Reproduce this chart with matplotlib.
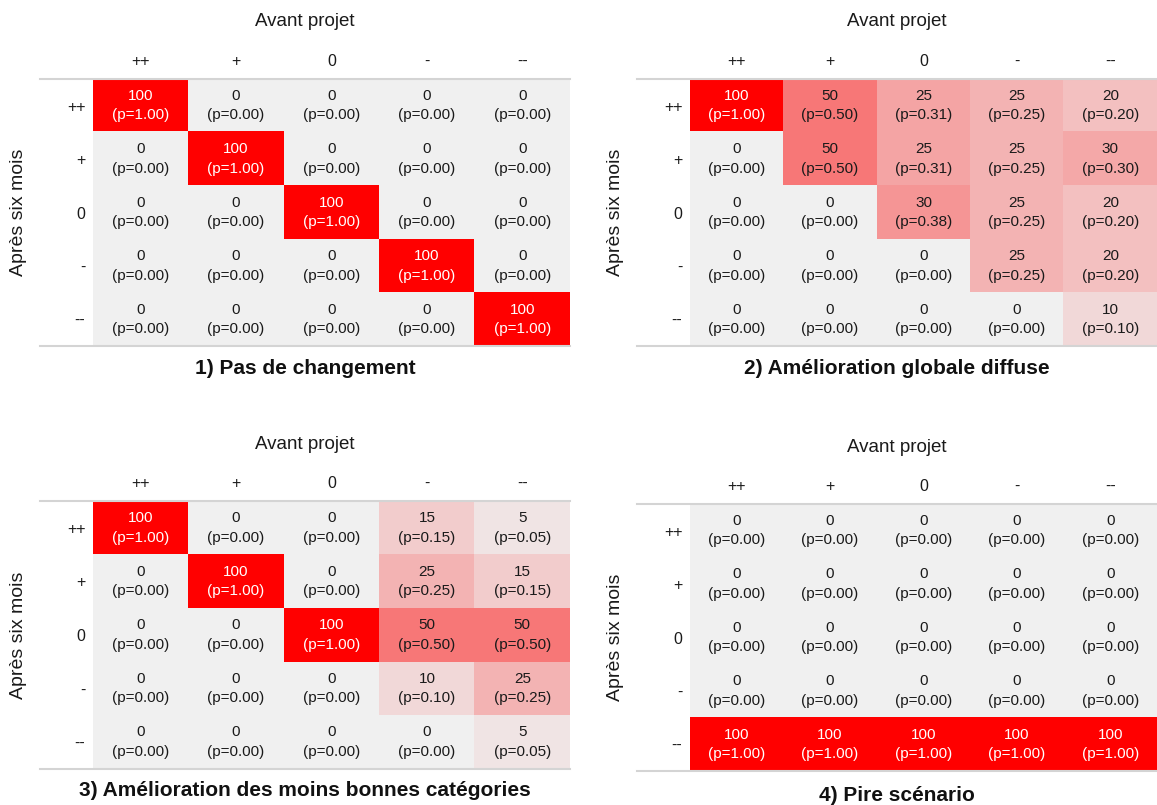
import numpy as np
import matplotlib.pyplot as plt
from matplotlib.colors import LinearSegmentedColormap

plt.rcParams['font.family'] = ['Liberation Sans', 'DejaVu Sans']

categories = ['++', '+', '0', '-', '--']

pas_de_changement = [
    [100, 0, 0, 0, 0],
    [0, 100, 0, 0, 0],
    [0, 0, 100, 0, 0],
    [0, 0, 0, 100, 0],
    [0, 0, 0, 0, 100],
]
amelioration_diffuse = [
    [100, 50, 25, 25, 20],
    [0, 50, 25, 25, 30],
    [0, 0, 30, 25, 20],
    [0, 0, 0, 25, 20],
    [0, 0, 0, 0, 10],
]
amelioration_moins_bonnes = [
    [100, 0, 0, 15, 5],
    [0, 100, 0, 25, 15],
    [0, 0, 100, 50, 50],
    [0, 0, 0, 10, 25],
    [0, 0, 0, 0, 5],
]
pire_scenario = [
    [0, 0, 0, 0, 0],
    [0, 0, 0, 0, 0],
    [0, 0, 0, 0, 0],
    [0, 0, 0, 0, 0],
    [100, 100, 100, 100, 100],
]
titles = ['1) Pas de changement', '2) Amélioration globale diffuse',
          '3) Amélioration des moins bonnes catégories', '4) Pire scénario']

W, H = 1157, 805
fig = plt.figure(figsize=(W / 100, H / 100), dpi=100)
cmap = LinearSegmentedColormap.from_list('gr', ['#f0f0f0', '#ff0000'])

# pixel boxes of the cell area: left, top, right, bottom
boxes = [(93, 79, 570, 346), (690, 79, 1157, 346),
         (93, 501, 570, 769), (690, 504, 1157, 771)]
title_gap = [22, 22, 21, 24]


def draw_panel(box, data, title, tgap):
    l, t, r, b = box
    ax = fig.add_axes([l / W, 1 - b / H, (r - l) / W, (b - t) / H])
    vals = np.array(data, dtype=float)
    p = vals / vals.sum(axis=0, keepdims=True).clip(min=1)
    ax.imshow(p, cmap=cmap, vmin=0, vmax=1, aspect='auto', interpolation='nearest')
    for i in range(5):
        for j in range(5):
            col = 'white' if p[i, j] > 0.7 else '#1a1a1a'
            ax.text(j, i, '%d\n(p=%.2f)' % (vals[i, j], p[i, j]), ha='center', va='center',
                    fontsize=11, color=col, linespacing=1.5)
    ax.xaxis.tick_top()
    ax.set_xticks(range(5), categories)
    ax.set_yticks(range(5), categories)
    ax.tick_params(length=0, labelsize=11.5, colors='#1a1a1a')
    ax.tick_params(axis='x', pad=7)
    ax.tick_params(axis='y', pad=5.5)
    for s in ax.spines.values():
        s.set_visible(False)
    w, h = r - l, b - t
    x0 = -53 / w
    ax.plot([x0, 1], [1, 1], transform=ax.transAxes, color='#d4d4d4', lw=1.5, clip_on=False)
    ax.plot([x0, 1], [0, 0], transform=ax.transAxes, color='#d4d4d4', lw=1.5, clip_on=False)
    cx = (x0 + 1) / 2
    ax.text(cx, 1 + 57 / h, 'Avant projet', transform=ax.transAxes, ha='center', va='center',
            fontsize=13.5, color='#1a1a1a')
    ax.text(cx, -tgap / h, title, transform=ax.transAxes, ha='center', va='center',
            fontsize=15, fontweight='bold', color='#111111')
    ax.text(-74 / w, 0.5, 'Après six mois', transform=ax.transAxes, ha='center', va='center',
            rotation=90, fontsize=14, color='#1a1a1a')


for box, data, title, tg in zip(boxes,
                                [pas_de_changement, amelioration_diffuse,
                                 amelioration_moins_bonnes, pire_scenario],
                                titles, title_gap):
    draw_panel(box, data, title, tg)

fig.savefig('out.png', dpi=100)
